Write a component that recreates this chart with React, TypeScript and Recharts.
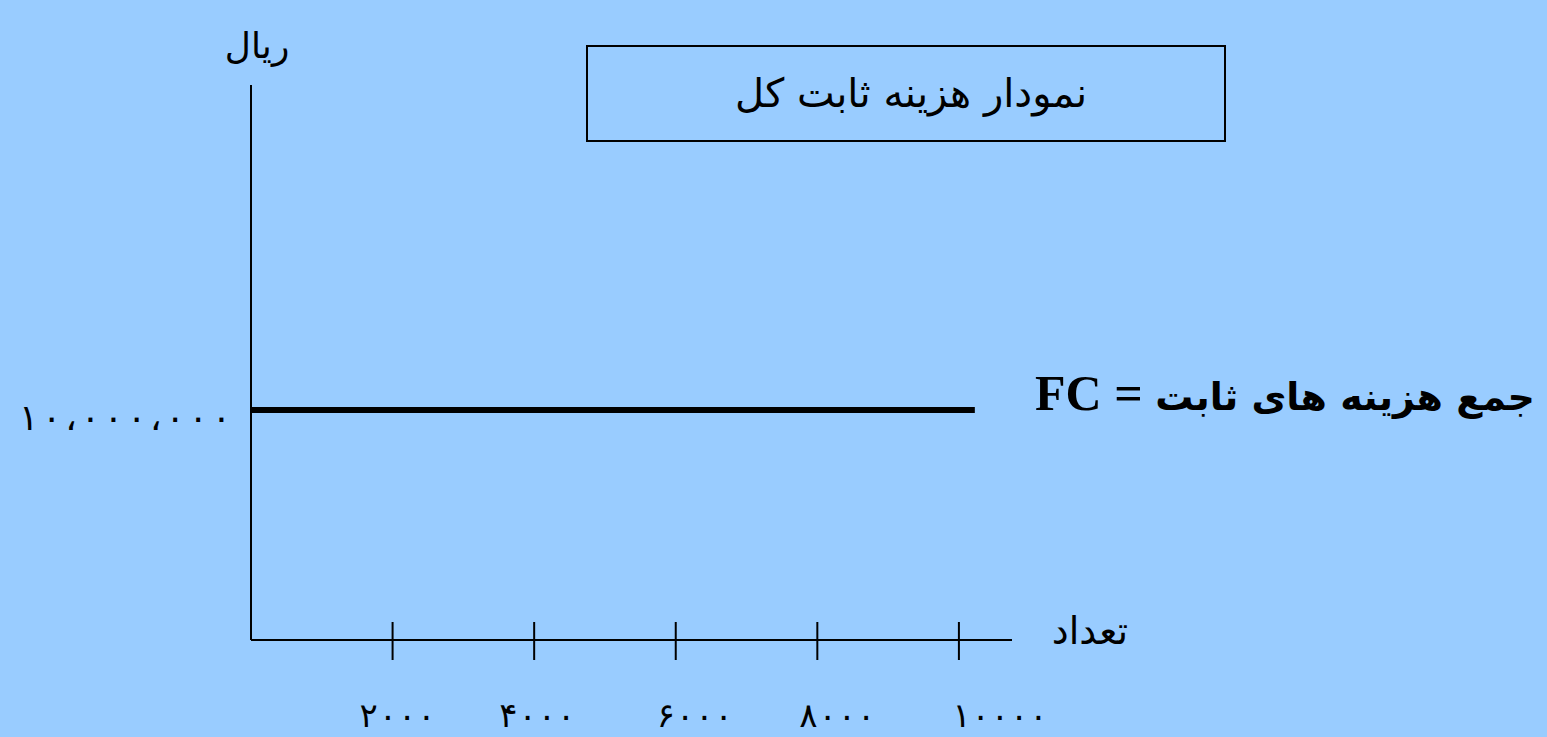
import React from "react";
import {
  LineChart,
  Line,
  XAxis,
  YAxis,
  Customized,
} from "recharts";

// quantity produced vs. total fixed cost (rial)
const quantityTicks = [2000, 4000, 6000, 8000, 10000];
const quantityLabels = ["۲۰۰۰", "۴۰۰۰", "۶۰۰۰", "۸۰۰۰", "۱۰۰۰۰"];
const costTicks = [10000000];
const costLabels = ["۱۰،۰۰۰،۰۰۰"];
const fixedCostX = [0, 10225];
const fixedCostY = [10000000, 10000000];

const chartData = fixedCostX.map((q, i) => ({ q, fc: fixedCostY[i] }));

const BG = "#99ccff";
const FA_FONT = "'DejaVu Sans', sans-serif";

// labels sit a little right of their tick, as on the original slide
const labelShift = [5, 3, 19, 20, 41];

function QuantityTick(props: any) {
  const { x, y, payload, index } = props;
  const i = quantityTicks.indexOf(payload.value);
  const label = quantityLabels[i] ?? "";
  return (
    <g>
      <line x1={x} x2={x} y1={y - 18} y2={y + 20} stroke="#000" strokeWidth={2} />
      <text
        x={x + (labelShift[index] ?? 0)}
        y={y + 87}
        textAnchor="middle"
        fontFamily={FA_FONT}
        fontSize={34}
        textLength={label.length * 19}
        lengthAdjust="spacing"
        fill="#000"
      >
        {label}
      </text>
    </g>
  );
}

function CostTick(props: any) {
  const { x, y, payload } = props;
  const i = costTicks.indexOf(payload.value);
  return (
    <text
      x={x - 20}
      y={y + 20}
      textAnchor="end"
      fontFamily={FA_FONT}
      fontSize={36}
      textLength={212}
      lengthAdjust="spacing"
      fill="#000"
    >
      {costLabels[i]}
    </text>
  );
}

function Annotations() {
  return (
    <g>
      <rect x={587} y={46} width={638} height={95} fill="none" stroke="#000" strokeWidth={2} />
      <text x={911} y={107} textAnchor="middle" fontFamily={FA_FONT} fontSize={40} fill="#000">
        نمودار هزینه ثابت کل
      </text>
      <text x={257} y={58} textAnchor="middle" fontFamily={FA_FONT} fontSize={36} fill="#000">
        ریال
      </text>
      <text x={1090} y={644} textAnchor="middle" fontFamily={FA_FONT} fontSize={38} fill="#000">
        تعداد
      </text>
      <text x={1535} y={410} textAnchor="end" fill="#000" fontWeight="bold">
        <tspan fontFamily="'Liberation Serif', serif" fontSize={50}>FC = </tspan>
        <tspan fontFamily={FA_FONT} fontSize={38}>جمع هزینه های ثابت</tspan>
      </text>
    </g>
  );
}

export default function App() {
  return (
    <div
      style={{
        position: "absolute",
        left: 0,
        top: 0,
        width: 1547,
        height: 737,
        background: BG,
      }}
    >
      <LineChart
        width={1547}
        height={737}
        data={chartData}
        margin={{ top: 85, right: 535, bottom: 0, left: 0 }}
      >
        <XAxis
          dataKey="q"
          type="number"
          domain={[0, 10750]}
          ticks={quantityTicks}
          axisLine={{ stroke: "#000", strokeWidth: 2 }}
          tickLine={false}
          tickSize={0}
          tickMargin={0}
          tick={<QuantityTick />}
          height={97}
          interval={0}
        />
        <YAxis
          type="number"
          domain={[0, 24130000]}
          ticks={costTicks}
          axisLine={{ stroke: "#000", strokeWidth: 2 }}
          tickLine={false}
          tickSize={0}
          tickMargin={0}
          tick={<CostTick />}
          width={251}
        />
        <Line
          dataKey="fc"
          stroke="#000"
          strokeWidth={6}
          dot={false}
          isAnimationActive={false}
        />
        <Customized component={Annotations} />
      </LineChart>
    </div>
  );
}
